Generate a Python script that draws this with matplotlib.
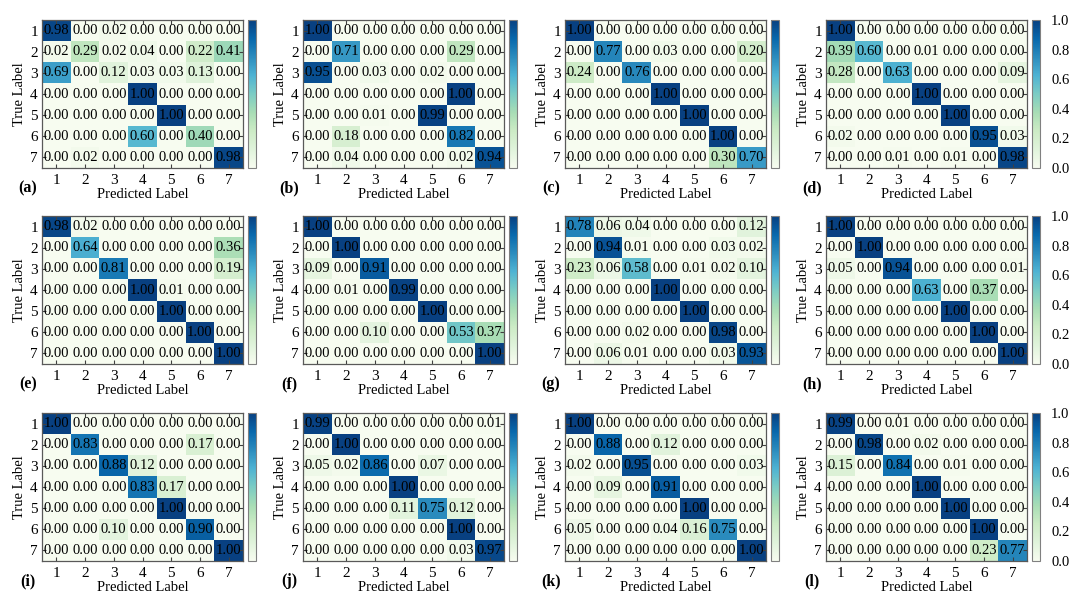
import numpy as np
import matplotlib
matplotlib.use('Agg')
import matplotlib.pyplot as plt

plt.rcParams['font.family'] = ['Liberation Serif', 'DejaVu Serif']

#class labels shared by every panel
classes = ['1', '2', '3', '4', '5', '6', '7']
panel_names = ['(a)', '(b)', '(c)', '(d)', '(e)', '(f)', '(g)', '(h)', '(i)', '(j)', '(k)', '(l)']

#confusion matrices (rows = true, cols = predicted)
cm_a = [[0.98, 0.00, 0.02, 0.00, 0.00, 0.00, 0.00],
        [0.02, 0.29, 0.02, 0.04, 0.00, 0.22, 0.41],
        [0.69, 0.00, 0.12, 0.03, 0.03, 0.13, 0.00],
        [0.00, 0.00, 0.00, 1.00, 0.00, 0.00, 0.00],
        [0.00, 0.00, 0.00, 0.00, 1.00, 0.00, 0.00],
        [0.00, 0.00, 0.00, 0.60, 0.00, 0.40, 0.00],
        [0.00, 0.02, 0.00, 0.00, 0.00, 0.00, 0.98]]
cm_b = [[1.00, 0.00, 0.00, 0.00, 0.00, 0.00, 0.00],
        [0.00, 0.71, 0.00, 0.00, 0.00, 0.29, 0.00],
        [0.95, 0.00, 0.03, 0.00, 0.02, 0.00, 0.00],
        [0.00, 0.00, 0.00, 0.00, 0.00, 1.00, 0.00],
        [0.00, 0.00, 0.01, 0.00, 0.99, 0.00, 0.00],
        [0.00, 0.18, 0.00, 0.00, 0.00, 0.82, 0.00],
        [0.00, 0.04, 0.00, 0.00, 0.00, 0.02, 0.94]]
cm_c = [[1.00, 0.00, 0.00, 0.00, 0.00, 0.00, 0.00],
        [0.00, 0.77, 0.00, 0.03, 0.00, 0.00, 0.20],
        [0.24, 0.00, 0.76, 0.00, 0.00, 0.00, 0.00],
        [0.00, 0.00, 0.00, 1.00, 0.00, 0.00, 0.00],
        [0.00, 0.00, 0.00, 0.00, 1.00, 0.00, 0.00],
        [0.00, 0.00, 0.00, 0.00, 0.00, 1.00, 0.00],
        [0.00, 0.00, 0.00, 0.00, 0.00, 0.30, 0.70]]
cm_d = [[1.00, 0.00, 0.00, 0.00, 0.00, 0.00, 0.00],
        [0.39, 0.60, 0.00, 0.01, 0.00, 0.00, 0.00],
        [0.28, 0.00, 0.63, 0.00, 0.00, 0.00, 0.09],
        [0.00, 0.00, 0.00, 1.00, 0.00, 0.00, 0.00],
        [0.00, 0.00, 0.00, 0.00, 1.00, 0.00, 0.00],
        [0.02, 0.00, 0.00, 0.00, 0.00, 0.95, 0.03],
        [0.00, 0.00, 0.01, 0.00, 0.01, 0.00, 0.98]]
cm_e = [[0.98, 0.02, 0.00, 0.00, 0.00, 0.00, 0.00],
        [0.00, 0.64, 0.00, 0.00, 0.00, 0.00, 0.36],
        [0.00, 0.00, 0.81, 0.00, 0.00, 0.00, 0.19],
        [0.00, 0.00, 0.00, 1.00, 0.01, 0.00, 0.00],
        [0.00, 0.00, 0.00, 0.00, 1.00, 0.00, 0.00],
        [0.00, 0.00, 0.00, 0.00, 0.00, 1.00, 0.00],
        [0.00, 0.00, 0.00, 0.00, 0.00, 0.00, 1.00]]
cm_f = [[1.00, 0.00, 0.00, 0.00, 0.00, 0.00, 0.00],
        [0.00, 1.00, 0.00, 0.00, 0.00, 0.00, 0.00],
        [0.09, 0.00, 0.91, 0.00, 0.00, 0.00, 0.00],
        [0.00, 0.01, 0.00, 0.99, 0.00, 0.00, 0.00],
        [0.00, 0.00, 0.00, 0.00, 1.00, 0.00, 0.00],
        [0.00, 0.00, 0.10, 0.00, 0.00, 0.53, 0.37],
        [0.00, 0.00, 0.00, 0.00, 0.00, 0.00, 1.00]]
cm_g = [[0.78, 0.06, 0.04, 0.00, 0.00, 0.00, 0.12],
        [0.00, 0.94, 0.01, 0.00, 0.00, 0.03, 0.02],
        [0.23, 0.06, 0.58, 0.00, 0.01, 0.02, 0.10],
        [0.00, 0.00, 0.00, 1.00, 0.00, 0.00, 0.00],
        [0.00, 0.00, 0.00, 0.00, 1.00, 0.00, 0.00],
        [0.00, 0.00, 0.02, 0.00, 0.00, 0.98, 0.00],
        [0.00, 0.06, 0.01, 0.00, 0.00, 0.03, 0.93]]
cm_h = [[1.00, 0.00, 0.00, 0.00, 0.00, 0.00, 0.00],
        [0.00, 1.00, 0.00, 0.00, 0.00, 0.00, 0.00],
        [0.05, 0.00, 0.94, 0.00, 0.00, 0.00, 0.01],
        [0.00, 0.00, 0.00, 0.63, 0.00, 0.37, 0.00],
        [0.00, 0.00, 0.00, 0.00, 1.00, 0.00, 0.00],
        [0.00, 0.00, 0.00, 0.00, 0.00, 1.00, 0.00],
        [0.00, 0.00, 0.00, 0.00, 0.00, 0.00, 1.00]]
cm_i = [[1.00, 0.00, 0.00, 0.00, 0.00, 0.00, 0.00],
        [0.00, 0.83, 0.00, 0.00, 0.00, 0.17, 0.00],
        [0.00, 0.00, 0.88, 0.12, 0.00, 0.00, 0.00],
        [0.00, 0.00, 0.00, 0.83, 0.17, 0.00, 0.00],
        [0.00, 0.00, 0.00, 0.00, 1.00, 0.00, 0.00],
        [0.00, 0.00, 0.10, 0.00, 0.00, 0.90, 0.00],
        [0.00, 0.00, 0.00, 0.00, 0.00, 0.00, 1.00]]
cm_j = [[0.99, 0.00, 0.00, 0.00, 0.00, 0.00, 0.01],
        [0.00, 1.00, 0.00, 0.00, 0.00, 0.00, 0.00],
        [0.05, 0.02, 0.86, 0.00, 0.07, 0.00, 0.00],
        [0.00, 0.00, 0.00, 1.00, 0.00, 0.00, 0.00],
        [0.00, 0.00, 0.00, 0.11, 0.75, 0.12, 0.00],
        [0.00, 0.00, 0.00, 0.00, 0.00, 1.00, 0.00],
        [0.00, 0.00, 0.00, 0.00, 0.00, 0.03, 0.97]]
cm_k = [[1.00, 0.00, 0.00, 0.00, 0.00, 0.00, 0.00],
        [0.00, 0.88, 0.00, 0.12, 0.00, 0.00, 0.00],
        [0.02, 0.00, 0.95, 0.00, 0.00, 0.00, 0.03],
        [0.00, 0.09, 0.00, 0.91, 0.00, 0.00, 0.00],
        [0.00, 0.00, 0.00, 0.00, 1.00, 0.00, 0.00],
        [0.05, 0.00, 0.00, 0.04, 0.16, 0.75, 0.00],
        [0.00, 0.00, 0.00, 0.00, 0.00, 0.00, 1.00]]
cm_l = [[0.99, 0.00, 0.01, 0.00, 0.00, 0.00, 0.00],
        [0.00, 0.98, 0.00, 0.02, 0.00, 0.00, 0.00],
        [0.15, 0.00, 0.84, 0.00, 0.01, 0.00, 0.00],
        [0.00, 0.00, 0.00, 1.00, 0.00, 0.00, 0.00],
        [0.00, 0.00, 0.00, 0.00, 1.00, 0.00, 0.00],
        [0.00, 0.00, 0.00, 0.00, 0.00, 1.00, 0.00],
        [0.00, 0.00, 0.00, 0.00, 0.00, 0.23, 0.77]]

matrices = [cm_a, cm_b, cm_c, cm_d, cm_e, cm_f, cm_g, cm_h, cm_i, cm_j, cm_k, cm_l]

W, H = 1080, 602
fig = plt.figure(figsize=(W/100, H/100), dpi=100)

#pixel layout of the grid
col_left = [42, 303, 565, 826]
row_top = [20, 216, 413]
hm_w, hm_h = 201, 148
cb_gap, cb_w = 5, 8

def px_rect(x, y, w, h):
    return [x/W, 1-(y+h)/H, w/W, h/H]

for n, cm in enumerate(matrices):
    r, c = n//4, n % 4
    x0, y0 = col_left[c], row_top[r]
    ax = fig.add_axes(px_rect(x0, y0, hm_w, hm_h))
    data = np.array(cm)
    im = ax.imshow(data, cmap='GnBu', vmin=0, vmax=1, aspect='auto', interpolation='nearest')
    for i in range(len(classes)):
        for j in range(len(classes)):
            ax.text(j, i, '%.2f' % data[i, j], ha='center', va='center', fontsize=10.5, color='black')
    ax.set_xticks(range(len(classes)))
    ax.set_yticks(range(len(classes)))
    ax.set_xticklabels(classes, fontsize=11)
    ax.set_yticklabels(classes, fontsize=11)
    ax.tick_params(direction='in', top=True, right=True, length=3, width=0.8, color='0.25', pad=3)
    ax.tick_params(axis='x', pad=4)
    for s in ax.spines.values():
        s.set_color('0.35')
        s.set_linewidth(0.9)
    ax.set_xlabel('Predicted Label', fontsize=10.5, labelpad=1)
    ax.set_ylabel('True Label', fontsize=10.5, labelpad=3)
    #panel letter under the lower left corner
    fig.text((x0-14)/W, 1-(y0+hm_h+20)/H, panel_names[n], fontsize=11.5, fontweight='bold',
             ha='center', va='center')

    cax = fig.add_axes(px_rect(x0+hm_w+cb_gap, y0, cb_w, hm_h))
    cb = fig.colorbar(im, cax=cax)
    cb.outline.set_edgecolor('0.5')
    cb.outline.set_linewidth(0.8)
    cb.set_ticks([0.0, 0.2, 0.4, 0.6, 0.8, 1.0])
    cax.tick_params(length=0, labelsize=10.5, pad=8)
    if c != 3:
        cax.set_yticklabels([])

fig.savefig('out.png', dpi=100)
